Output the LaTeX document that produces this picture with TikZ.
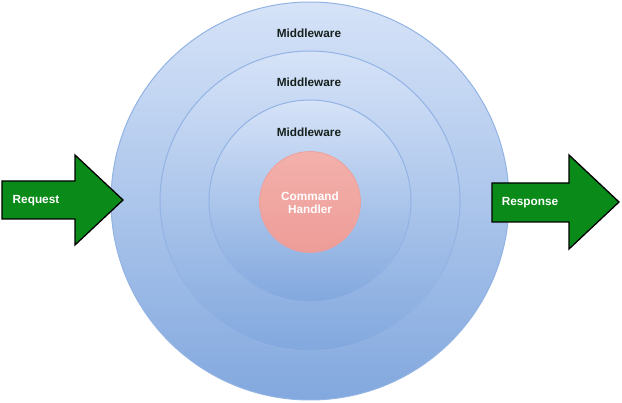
\documentclass[tikz,border=0pt]{standalone}
\usepackage{fontspec}
\setmainfont{Liberation Sans}
\definecolor{ringtop}{HTML}{D6E3F8}
\definecolor{ringbot}{HTML}{82A8DE}
\definecolor{ringline}{HTML}{92B3E4}
\definecolor{redtop}{HTML}{F3B0AB}
\definecolor{redbot}{HTML}{EE9D98}
\definecolor{arrowgreen}{HTML}{0A8A18}
\definecolor{darktext}{HTML}{16201C}
\tikzset{
  ring/.style={circle, inner sep=0pt, draw=ringline, line width=1pt, top color=ringtop, bottom color=ringbot},
  core/.style={circle, inner sep=0pt, draw=redbot, line width=0.6pt, top color=redtop, bottom color=redbot},
  bigarrow/.style={fill=arrowgreen, draw=black, line width=1.3pt, line join=miter},
  lbl/.style={font=\fontsize{11.8}{14}\selectfont\bfseries, inner sep=0pt},
  whitelbl/.style={lbl, text=white, align=center},
  ringlbl/.style={lbl, text=darktext}
}
\begin{document}
\begin{tikzpicture}[x=1pt,y=-1pt]
\useasboundingbox (0,0) rectangle (622,403);
\node[ring, minimum size=398pt] (outer) at (310,201) {};
\node[ring, minimum size=300pt] (middle) at (310,201) {};
\node[ring, minimum size=202pt] (inner) at (310,201) {};
\node[core, minimum size=101pt] (handler) at (310,202) {};
\node[whitelbl] (handlertext) at (310,202.5) {Command\\[-1pt]Handler};
\node[ringlbl] (mw1) at (309,33) {Middleware};
\node[ringlbl] (mw2) at (309,82) {Middleware};
\node[ringlbl] (mw3) at (309,132) {Middleware};
\draw[bigarrow] (2,181) -- (75,181) -- (75,155) -- (123,200) -- (75,245) -- (75,219) -- (2,219) -- cycle;
\node[whitelbl] (req) at (36,201) {Request};
\draw[bigarrow] (492,183) -- (569,183) -- (569,155) -- (619,202) -- (569,249) -- (569,222) -- (492,222) -- cycle;
\node[whitelbl] (resp) at (530,203) {Response};
\end{tikzpicture}
\end{document}
